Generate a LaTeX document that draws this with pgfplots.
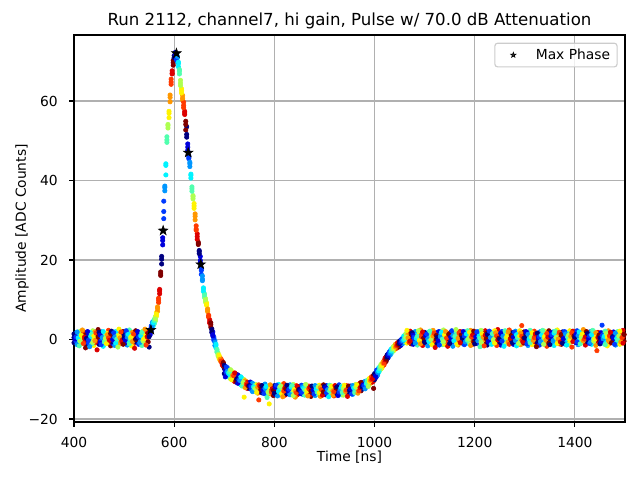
\documentclass[border=0pt]{standalone}
\usepackage{pgfplots}
\pgfplotsset{compat=1.18}
\usepackage{pgfplotstable}
\usepackage{fontspec}
\setmainfont{DejaVu Sans}

\pgfdeclareplotmark{mystar}{%
  \pgfpathmoveto{\pgfpointpolar{90}{\pgfplotmarksize}}%
  \pgfpathlineto{\pgfpointpolar{126}{0.4\pgfplotmarksize}}%
  \pgfpathlineto{\pgfpointpolar{162}{\pgfplotmarksize}}%
  \pgfpathlineto{\pgfpointpolar{198}{0.4\pgfplotmarksize}}%
  \pgfpathlineto{\pgfpointpolar{234}{\pgfplotmarksize}}%
  \pgfpathlineto{\pgfpointpolar{270}{0.4\pgfplotmarksize}}%
  \pgfpathlineto{\pgfpointpolar{306}{\pgfplotmarksize}}%
  \pgfpathlineto{\pgfpointpolar{342}{0.4\pgfplotmarksize}}%
  \pgfpathlineto{\pgfpointpolar{18}{\pgfplotmarksize}}%
  \pgfpathlineto{\pgfpointpolar{54}{0.4\pgfplotmarksize}}%
  \pgfpathclose
  \pgfusepathqfillstroke
}

\pgfplotstableread{
x k a b c
400.0 0 0.5 -0.8 1.4
402.1 1 -0.3 1.1 0.2
404.2 2 1.6 -0.5 0.7
406.3 3 0.1 -1.3 1.9
408.4 4 -0.9 0.8 0.4
410.5 5 1.2 -0.2 -1.6
412.6 6 0.6 2.1 -0.4
414.7 7 -1.1 0.3 1.0
416.8 8 0.9 -0.7 2.4
418.9 9 -0.1 1.5 -1.0
421.0 10 1.8 0.0 0.6
423.1 11 -0.6 1.2 -2.1
425.0 0 1.0 -1.4 0.3
427.1 1 -0.2 0.9 2.0
429.2 2 0.7 -0.9 -0.1
431.3 3 1.5 0.4 -1.8
433.4 4 -0.5 1.7 0.8
435.5 5 0.2 -1.1 1.3
437.6 6 2.2 0.6 -0.7
439.7 7 -1.5 0.1 0.9
441.8 8 0.8 1.9 -0.3
443.9 9 -0.8 0.5 1.6
446.0 10 1.3 -0.4 -2.6
448.1 11 0.0 2.5 0.7
450.0 0 -1.2 0.6 1.8
452.1 1 0.4 -0.6 1.1
454.2 2 1.9 0.2 -1.3
456.3 3 -0.4 1.3 0.5
458.4 4 0.9 -1.7 2.0
460.5 5 -0.1 0.8 -0.6
462.6 6 1.4 -0.3 0.3
464.7 7 0.6 1.6 -1.0
466.8 8 -0.9 0.1 1.2
468.9 9 2.3 -0.8 0.4
471.0 10 0.3 1.0 -0.2
473.1 11 -1.6 0.7 1.5
475.0 0 0.8 -0.5 2.1
477.1 1 -1.0 1.4 0.0
479.2 2 0.5 -0.2 1.7
481.3 3 1.1 -1.5 0.6
483.4 4 -0.3 2.0 -0.9
485.5 5 1.7 0.4 0.1
487.6 6 -0.7 1.0 -1.9
489.7 7 0.2 2.6 0.9
491.8 8 1.3 -1.1 0.4
493.9 9 -0.4 0.7 1.9
496.0 10 0.9 -0.6 -0.2
498.1 11 2.0 0.3 -1.2
500.0 0 -0.6 1.2 0.4
502.1 1 1.5 -0.9 -0.1
504.2 2 0.1 0.8 2.2
506.3 3 -1.4 1.6 0.6
508.4 4 0.7 -0.3 1.3
510.5 5 2.4 0.2 -1.1
512.6 6 -0.2 1.1 0.5
514.7 7 1.0 -1.6 0.8
516.8 8 0.3 1.8 -0.5
518.9 9 -1.1 0.6 1.4
521.0 10 1.6 -0.1 -2.2
523.1 11 0.4 2.2 0.0
525.0 0 1.1 -0.7 0.3
527.1 1 -0.5 1.5 2.0
529.2 2 0.8 -1.2 0.6
531.3 3 1.7 0.0 -0.8
533.4 4 -0.2 1.1 0.9
535.5 5 0.5 -1.5 1.8
537.6 6 2.1 0.4 -0.3
539.7 7 -0.9 1.3 0.2
541.8 8 0.6 -0.4 2.6
543.9 9 1.4 0.1 -1.4
546.0 10 -0.3 1.9 0.7
548.1 11 0.9 -0.6 1.5
550.0 0 1.4 -1.9 0.7
552.1 1 2.5 1.2 1.9
554.2 2 3.4 2.1 2.9
556.3 3 3.0 4.3 3.6
558.4 4 4.6 3.5 4.2
560.5 5 5.1 4.0 4.8
562.6 6 4.7 5.8 5.2
564.7 7 6.8 5.9 6.4
566.8 8 7.1 8.2 7.8
568.9 9 9.3 10.4 9.9
571.0 10 12.6 11.5 12.2
573.1 11 16.1 17.0 16.5
575.0 0 19.0 20.9 20.2
577.1 1 23.8 25.6 24.9
579.2 2 30.4 32.2 34.8
581.3 3 38.6 37.4 38.2
583.4 4 41.4 43.8 44.2
585.5 5 49.6 51.0 50.2
587.6 6 53.2 54.1 53.8
589.7 7 55.8 57.4 56.9
591.8 8 59.8 61.5 60.9
593.9 9 64.8 65.5 64.2
596.0 10 67.0 67.6 66.8
598.1 11 69.6 70.2 69.0
600.0 0 70.6 71.4 70.9
602.1 1 71.5 72.2 71.8
604.2 2 71.0 72.0 70.4
606.3 3 70.8 69.9 71.2
608.4 4 69.4 68.6 69.8
610.5 5 66.8 67.5 67.9
612.6 6 64.5 65.2 63.9
614.7 7 62.6 63.1 62.0
616.8 8 60.2 61.4 60.7
618.9 9 59.7 58.3 58.9
621.0 10 57.4 56.6 57.0
623.1 11 54.9 52.7 54.1
625.0 0 53.5 50.9 51.6
627.1 1 48.4 49.2 47.6
629.2 2 45.5 46.3 45.9
631.3 3 44.2 43.5 44.6
633.4 4 41.3 40.6 41.6
635.5 5 37.9 37.3 38.4
637.6 6 36.2 35.4 35.9
639.7 7 34.2 33.0 33.6
641.8 8 31.6 30.1 31.0
643.9 9 27.8 28.6 27.5
646.0 10 26.6 25.2 25.9
648.1 11 24.5 23.9 24.2
650.0 0 22.4 21.6 22.1
652.1 1 20.9 19.4 19.9
654.2 2 17.4 16.4 17.8
656.3 3 15.2 16.0 14.8
658.4 4 12.7 12.1 13.0
660.5 5 11.5 10.6 11.2
662.6 6 9.8 10.3 9.4
664.7 7 8.6 9.2 8.9
666.8 8 7.7 7.0 7.4
668.9 9 5.6 6.1 5.9
671.0 10 4.4 4.9 4.1
673.1 11 3.7 3.1 4.2
675.0 0 2.7 1.8 2.5
677.1 1 1.9 1.2 0.9
679.2 2 0.6 0.2 -0.2
681.3 3 -0.3 -1.5 -0.7
683.4 4 -1.5 -2.1 -1.2
685.5 5 -3.2 -2.5 -2.9
687.6 6 -3.4 -4.1 -3.8
689.7 7 -4.4 -4.8 -4.0
691.8 8 -5.3 -4.6 -5.0
693.9 9 -5.6 -5.0 -5.4
696.0 10 -6.1 -5.5 -6.4
698.1 11 -6.1 -6.7 -5.8
700.0 0 -7.3 -8.6 -6.5
702.1 1 -6.8 -7.9 -9.4
704.2 2 -7.2 -8.4 -6.9
706.3 3 -8.9 -7.1 -8.0
708.4 4 -7.6 -9.3 -8.5
710.5 5 -9.5 -7.8 -8.2
712.6 6 -8.1 -9.9 -7.6
714.7 7 -9.2 -8.0 -10.1
716.8 8 -8.4 -9.7 -9.0
718.9 9 -10.3 -8.6 -9.1
721.0 10 -9.0 -10.6 -8.4
723.1 11 -9.8 -8.7 -10.4
725.0 0 -9.0 -10.8 -9.9
727.1 1 -10.4 -8.9 -11.0
729.2 2 -9.3 -10.9 -10.1
731.3 3 -11.2 -9.6 -10.3
733.4 4 -10.0 -11.4 -9.4
735.5 5 -10.9 -9.8 -11.7
737.6 6 -11.6 -10.2 -10.8
739.7 7 -10.1 -11.8 -14.5
741.8 8 -11.5 -10.4 -12.1
743.9 9 -10.6 -11.9 -11.2
746.0 10 -12.3 -10.8 -11.4
748.1 11 -11.0 -12.0 -11.7
750.0 0 -10.9 -12.3 -11.6
752.1 1 -12.0 -10.7 -11.8
754.2 2 -11.2 -12.6 -11.9
756.3 3 -12.4 -11.0 -13.1
758.4 4 -11.5 -12.8 -11.9
760.5 5 -13.0 -11.6 -12.2
762.6 6 -11.3 -12.9 -12.4
764.7 7 -12.7 -11.5 -13.3
766.8 8 -11.8 -13.5 -12.0
768.9 9 -12.9 -11.4 -15.2
771.0 10 -12.1 -13.2 -11.7
773.1 11 -13.0 -11.9 -12.5
775.0 0 -12.1 -13.4 -11.6
777.1 1 -13.0 -11.9 -12.7
779.2 2 -11.5 -12.8 -13.6
781.3 3 -12.9 -11.2 -12.3
783.4 4 -13.8 -12.4 -11.8
785.5 5 -12.0 -13.1 -14.6
787.6 6 -11.7 -12.6 -13.3
789.7 7 -13.4 -12.1 -16.2
791.8 8 -12.5 -13.7 -11.4
793.9 9 -11.9 -12.9 -13.2
796.0 10 -13.6 -11.8 -12.4
798.1 11 -12.2 -14.1 -12.8
800.0 0 -12.9 -11.6 -13.5
802.1 1 -12.3 -13.8 -12.0
804.2 2 -13.4 -12.2 -11.5
806.3 3 -11.8 -13.0 -14.2
808.4 4 -12.7 -11.3 -13.1
810.5 5 -13.9 -12.5 -12.0
812.6 6 -12.1 -13.3 -11.7
814.7 7 -11.4 -12.8 -13.6
816.8 8 -13.2 -12.0 -14.4
818.9 9 -12.6 -11.1 -13.0
821.0 10 -14.0 -12.7 -12.2
823.1 11 -11.9 -13.5 -12.4
825.0 0 -12.4 -13.7 -11.5
827.1 1 -13.1 -12.0 -12.8
829.2 2 -11.7 -13.4 -12.5
831.3 3 -12.9 -11.4 -13.9
833.4 4 -13.6 -12.3 -12.0
835.5 5 -12.2 -13.2 -11.6
837.6 6 -11.3 -12.7 -14.1
839.7 7 -13.3 -11.9 -12.6
841.8 8 -12.0 -14.5 -13.0
843.9 9 -12.8 -11.6 -13.4
846.0 10 -13.9 -12.4 -11.8
848.1 11 -12.3 -13.1 -12.7
850.0 0 -13.2 -11.8 -12.5
852.1 1 -12.0 -13.6 -12.9
854.2 2 -12.7 -11.5 -13.3
856.3 3 -13.8 -12.4 -11.9
858.4 4 -11.6 -13.0 -12.2
860.5 5 -12.9 -14.0 -12.6
862.6 6 -13.4 -12.1 -11.3
864.7 7 -12.2 -13.5 -12.8
866.8 8 -11.9 -12.6 -14.2
868.9 9 -13.1 -11.7 -12.4
871.0 10 -12.5 -13.9 -12.0
873.1 11 -14.3 -12.3 -13.0
875.0 0 -12.6 -13.3 -11.7
877.1 1 -13.5 -12.0 -12.8
879.2 2 -11.9 -12.9 -13.7
881.3 3 -12.4 -14.1 -11.6
883.4 4 -13.0 -11.8 -12.5
885.5 5 -12.1 -13.6 -13.2
887.6 6 -13.8 -12.2 -11.9
889.7 7 -11.5 -12.7 -13.4
891.8 8 -12.9 -14.3 -12.1
893.9 9 -13.3 -11.9 -12.6
896.0 10 -12.0 -13.1 -14.0
898.1 11 -12.7 -11.4 -13.2
900.0 0 -13.1 -12.3 -11.8
902.1 1 -12.5 -13.9 -12.1
904.2 2 -11.6 -12.8 -13.4
906.3 3 -13.7 -12.0 -12.6
908.4 4 -12.2 -13.3 -14.4
910.5 5 -12.9 -11.5 -13.0
912.6 6 -11.9 -13.6 -12.4
914.7 7 -13.2 -12.1 -11.7
916.8 8 -12.6 -14.0 -12.9
918.9 9 -14.2 -12.4 -13.1
921.0 10 -12.0 -13.0 -11.6
923.1 11 -13.5 -12.7 -12.2
925.0 0 -12.3 -13.6 -11.9
927.1 1 -13.0 -12.2 -14.1
929.2 2 -12.7 -11.4 -13.2
931.3 3 -11.8 -13.5 -12.5
933.4 4 -13.9 -12.6 -12.0
935.5 5 -12.4 -11.7 -13.3
937.6 6 -13.1 -14.0 -12.2
939.7 7 -12.0 -12.9 -11.5
941.8 8 -13.6 -12.3 -13.0
943.9 9 -11.6 -13.2 -12.7
946.0 10 -12.8 -11.9 -14.3
948.1 11 -13.4 -12.5 -11.7
950.0 0 -12.1 -13.5 -12.8
952.1 1 -13.2 -11.7 -12.4
954.2 2 -11.9 -12.8 -13.7
956.3 3 -12.6 -13.8 -11.6
958.4 4 -13.3 -11.9 -12.2
960.5 5 -11.5 -12.9 -13.4
962.6 6 -12.7 -11.3 -12.0
964.7 7 -13.0 -12.2 -11.4
966.8 8 -11.6 -12.8 -13.5
968.9 9 -12.4 -11.2 -12.9
971.0 10 -11.0 -12.6 -12.1
973.1 11 -12.9 -11.5 -10.8
975.0 0 -11.2 -12.5 -11.9
977.1 1 -12.3 -10.8 -11.4
979.2 2 -10.9 -12.1 -11.7
981.3 3 -11.8 -10.5 -12.4
983.4 4 -10.6 -11.9 -11.1
985.5 5 -11.7 -10.3 -10.9
987.6 6 -10.1 -11.5 -11.8
989.7 7 -11.2 -9.8 -10.6
991.8 8 -9.7 -11.0 -10.3
993.9 9 -10.8 -9.4 -10.1
996.0 10 -9.3 -10.7 -9.9
998.1 11 -10.4 -9.0 -12.3
1000.0 0 -9.0 -10.1 -8.6
1002.1 1 -8.4 -9.6 -9.2
1004.2 2 -9.3 -8.1 -7.7
1006.3 3 -7.6 -8.9 -8.3
1008.4 4 -8.2 -7.1 -7.9
1010.5 5 -6.9 -7.8 -7.3
1012.6 6 -7.4 -6.3 -6.8
1014.7 7 -6.1 -7.2 -6.5
1016.8 8 -6.6 -5.7 -6.0
1018.9 9 -5.3 -6.4 -5.9
1021.0 10 -5.8 -4.7 -5.1
1023.1 11 -4.4 -5.5 -4.9
1025.0 0 -4.9 -3.9 -4.4
1027.1 1 -3.6 -4.6 -4.0
1029.2 2 -4.1 -3.2 -3.6
1031.3 3 -2.8 -3.9 -3.4
1033.4 4 -3.5 -2.4 -2.9
1035.5 5 -2.2 -3.1 -2.6
1037.6 6 -2.9 -1.8 -2.3
1039.7 7 -1.6 -2.6 -2.0
1041.8 8 -2.3 -1.2 -1.9
1043.9 9 -1.1 -2.2 -1.6
1046.0 10 -1.8 -0.8 -1.4
1048.1 11 -0.7 -1.9 -1.2
1050.0 0 -1.6 -0.4 -1.0
1052.1 1 -0.2 -1.5 -0.8
1054.2 2 -1.2 0.1 -0.5
1056.3 3 0.4 -1.0 -0.3
1058.4 4 -0.8 0.9 -0.1
1060.5 5 1.1 -0.6 0.2
1062.6 6 -0.3 1.5 0.6
1064.7 7 0.8 -0.9 2.3
1066.8 8 -0.2 1.3 0.4
1068.9 9 1.7 0.0 -0.7
1071.0 10 0.5 2.1 -0.4
1073.1 11 -1.1 0.7 1.4
1075.0 0 0.9 -0.6 1.7
1077.1 1 -1.2 0.4 1.1
1079.2 2 1.5 -0.1 0.6
1081.3 3 0.2 2.0 -0.9
1083.4 4 -0.4 1.0 0.3
1085.5 5 1.3 -1.4 0.8
1087.6 6 0.6 0.1 2.2
1089.7 7 -0.8 1.6 -0.2
1091.8 8 2.4 0.5 -1.1
1093.9 9 0.0 1.2 0.7
1096.0 10 -1.5 0.8 1.9
1098.1 11 1.1 -0.3 0.4
1100.0 0 0.4 1.8 -0.7
1102.1 1 1.6 -0.2 0.9
1104.2 2 -1.0 0.7 1.4
1106.3 3 0.8 -1.6 0.2
1108.4 4 1.9 0.3 -0.5
1110.5 5 -0.3 1.2 2.1
1112.6 6 0.7 -0.9 0.0
1114.7 7 1.4 0.5 -1.3
1116.8 8 -0.6 2.3 0.9
1118.9 9 0.2 -0.4 1.6
1121.0 10 1.7 0.9 -2.0
1123.1 11 -0.9 0.1 1.0
1125.0 0 1.2 -1.1 0.5
1127.1 1 0.0 1.9 -0.3
1129.2 2 2.0 0.4 -1.4
1131.3 3 -0.5 1.1 0.7
1133.4 4 0.9 -0.8 1.8
1135.5 5 -1.3 0.6 0.1
1137.6 6 1.5 2.4 -0.6
1139.7 7 0.3 -1.2 1.2
1141.8 8 -0.2 0.8 2.0
1143.9 9 1.1 -0.5 0.4
1146.0 10 0.6 1.6 -1.7
1148.1 11 -0.7 0.2 1.3
1150.0 0 0.1 1.4 -1.0
1152.1 1 1.8 -0.4 0.6
1154.2 2 -0.8 0.9 2.2
1156.3 3 0.5 -1.7 1.0
1158.4 4 1.6 0.2 -0.3
1160.5 5 -0.1 1.3 0.8
1162.6 6 0.9 -0.6 2.5
1164.7 7 2.1 0.7 -1.2
1166.8 8 -1.4 1.0 0.3
1168.9 9 0.4 -0.2 1.7
1171.0 10 1.3 2.0 -0.8
1173.1 11 -0.5 0.6 1.1
1175.0 0 1.0 -0.9 0.4
1177.1 1 -0.3 1.5 2.0
1179.2 2 0.7 -1.3 0.9
1181.3 3 1.9 0.3 -0.6
1183.4 4 -1.0 0.8 1.4
1185.5 5 0.6 2.2 -0.2
1187.6 6 1.4 -0.5 0.1
1189.7 7 -0.7 1.1 1.8
1191.8 8 2.3 0.0 -1.5
1193.9 9 0.2 1.7 0.6
1196.0 10 -1.2 0.5 1.2
1198.1 11 0.8 -0.4 2.1
1200.0 0 1.5 0.2 -1.1
1202.1 1 -0.6 1.3 0.7
1204.2 2 0.9 -1.0 1.9
1206.3 3 2.0 0.5 -0.3
1208.4 4 -0.2 1.6 0.8
1210.5 5 1.1 -1.8 0.3
1212.6 6 0.4 2.3 -0.7
1214.7 7 -1.3 0.7 1.4
1216.8 8 1.7 -0.1 0.6
1218.9 9 0.0 1.0 -1.6
1221.0 10 2.2 0.4 1.1
1223.1 11 -0.8 1.5 0.2
1225.0 0 0.6 -1.4 1.3
1227.1 1 1.9 0.1 -0.5
1229.2 2 -0.4 1.2 2.1
1231.3 3 1.0 -0.8 0.5
1233.4 4 0.3 1.8 -1.2
1235.5 5 -1.1 0.7 1.5
1237.6 6 1.6 -0.3 0.0
1239.7 7 0.8 2.2 -0.9
1241.8 8 -0.5 0.4 1.7
1243.9 9 1.3 -1.5 0.9
1246.0 10 2.5 0.6 -0.1
1248.1 11 -0.2 1.1 0.3
1250.0 0 1.2 -0.7 0.1
1252.1 1 -1.4 0.9 1.6
1254.2 2 0.5 2.0 -0.4
1256.3 3 1.7 -0.2 0.8
1258.4 4 -0.6 1.1 -1.7
1260.5 5 0.9 0.3 2.2
1262.6 6 2.0 -1.0 0.5
1264.7 7 -0.1 1.5 0.7
1266.8 8 1.3 -0.6 1.9
1268.9 9 0.4 2.4 -1.2
1271.0 10 -0.9 0.8 0.2
1273.1 11 1.6 -0.3 1.0
1275.0 0 0.3 1.7 -0.8
1277.1 1 1.1 -1.2 0.6
1279.2 2 -0.5 0.9 1.8
1281.3 3 2.1 0.2 -0.3
1283.4 4 0.7 -1.6 1.2
1285.5 5 -0.2 1.4 0.5
1287.6 6 1.5 0.0 -1.0
1289.7 7 0.6 2.2 0.9
1291.8 8 -1.3 0.5 1.6
1293.9 9 3.5 -0.4 0.8
1296.0 10 0.1 1.3 -0.6
1298.1 11 1.9 -0.9 0.4
1300.0 0 -0.7 1.0 0.4
1302.1 1 1.4 -0.3 2.0
1304.2 2 0.2 1.8 -1.1
1306.3 3 -1.5 0.6 1.3
1308.4 4 1.0 -0.5 0.1
1310.5 5 2.3 0.9 -0.8
1312.6 6 -0.4 1.2 0.7
1314.7 7 0.8 -1.3 1.7
1316.8 8 1.6 0.3 -0.2
1318.9 9 -0.9 2.1 0.5
1321.0 10 0.5 -0.6 1.4
1323.1 11 1.2 0.0 -1.8
1325.0 0 0.9 -0.8 1.6
1327.1 1 -0.1 1.3 0.4
1329.2 2 1.8 -1.4 0.7
1331.3 3 0.4 2.0 -0.5
1333.4 4 -1.0 0.7 1.1
1335.5 5 1.5 -0.2 2.3
1337.6 6 0.0 1.6 -1.2
1339.7 7 2.1 0.5 0.8
1341.8 8 -0.6 1.1 -0.1
1343.9 9 0.7 -1.7 1.5
1346.0 10 1.3 0.2 0.6
1348.1 11 -0.3 2.2 -0.9
1350.0 0 1.4 0.1 -1.3
1352.1 1 -0.5 1.7 0.8
1354.2 2 0.6 -0.9 1.2
1356.3 3 1.9 0.3 -0.4
1358.4 4 0.2 -1.5 1.6
1360.5 5 -0.8 1.0 2.1
1362.6 6 1.2 -0.3 0.5
1364.7 7 2.4 0.7 -1.0
1366.8 8 -0.2 1.4 0.1
1368.9 9 0.9 -1.1 1.8
1371.0 10 1.6 0.4 -0.6
1373.1 11 -1.2 0.8 1.3
1375.0 0 0.7 1.9 -0.9
1377.1 1 1.3 -0.4 0.2
1379.2 2 -1.1 0.8 2.0
1381.3 3 0.5 -0.7 1.4
1383.4 4 1.8 0.1 -1.4
1385.5 5 -0.3 1.5 0.6
1387.6 6 0.9 -1.2 1.1
1389.7 7 2.2 0.4 -0.2
1391.8 8 -0.6 1.2 0.8
1393.9 9 1.0 -1.9 1.7
1396.0 10 0.3 2.1 -0.5
1398.1 11 1.5 -0.1 0.9
1400.0 0 -0.4 1.1 0.6
1402.1 1 1.7 -0.8 1.3
1404.2 2 0.2 2.2 -0.6
1406.3 3 -1.3 0.5 1.0
1408.4 4 1.2 -0.2 1.9
1410.5 5 0.6 1.6 -1.1
1412.6 6 -0.9 0.3 0.8
1414.7 7 1.9 -0.5 1.4
1416.8 8 0.4 2.5 -0.3
1418.9 9 -0.7 1.0 0.1
1421.0 10 1.5 -1.4 0.7
1423.1 11 0.1 0.9 2.0
1425.0 0 0.8 -0.6 1.5
1427.1 1 -0.2 1.4 0.3
1429.2 2 1.6 -1.0 0.9
1431.3 3 0.3 2.0 -0.7
1433.4 4 -1.2 0.7 1.2
1435.5 5 1.1 -0.3 2.3
1437.6 6 2.0 0.6 -0.4
1439.7 7 -0.5 1.3 0.1
1441.8 8 0.9 -1.5 1.7
1443.9 9 1.4 0.2 -2.8
1446.0 10 -0.8 1.8 0.5
1448.1 11 0.6 -0.1 1.1
1450.0 0 1.3 -1.1 0.4
1452.1 1 0.0 1.7 -0.5
1454.2 2 3.6 0.5 1.0
1456.3 3 -0.9 1.2 0.2
1458.4 4 1.8 -0.4 0.8
1460.5 5 0.5 2.1 -1.3
1462.6 6 -0.3 0.9 1.5
1464.7 7 1.0 -1.6 0.6
1466.8 8 2.2 0.3 -0.2
1468.9 9 -1.0 1.4 0.9
1471.0 10 0.7 -0.5 1.8
1473.1 11 1.6 0.1 -0.8
1475.0 0 -0.5 1.2 0.7
1477.1 1 1.9 -0.3 0.4
1479.2 2 0.6 1.5 -1.2
1481.3 3 -1.4 0.8 1.6
1483.4 4 1.1 -0.7 0.3
1485.5 5 2.0 0.4 -0.1
1487.6 6 -0.2 1.7 0.9
1489.7 7 0.9 -1.2 2.1
1491.8 8 1.4 0.2 -0.6
1493.9 9 -0.8 1.1 0.5
1496.0 10 0.5 2.3 -0.9
1498.1 11 1.2 -0.4 1.3
}\pulsedata

\pgfplotsset{dotstyle/.style={scatter, only marks, scatter src=explicit, mark=*, mark size=1.6bp,
  scatter/use mapped color={draw=mapped color, fill=mapped color}, forget plot}}

\begin{document}
\begin{tikzpicture}
\begin{axis}[
  scale only axis, width=396.72bp, height=278.64bp,
  xmin=400, xmax=1500, ymin=-20.75, ymax=76.6,
  xtick={400,600,800,1000,1200,1400}, xticklabels={400,600,800,1000,1200,1400},
  ytick={-20,0,20,40,60}, yticklabels={−20,0,20,40,60},
  tick pos=left,
  grid=major, grid style={color=black!31, line width=0.8bp},
  axis line style={line width=0.8bp, black},
  tick style={line width=0.8bp, black},
  tick align=outside, major tick length=3.5bp,
  axis on top,
  tick label style={font=\fontsize{10}{12}\selectfont},
  xticklabel style={inner sep=0pt, anchor=north, yshift=-7.4bp},
  yticklabel style={inner sep=0pt, anchor=east, xshift=-8bp},
  xlabel={Time [ns]}, ylabel={Amplitude [ADC Counts]},
  xlabel style={font=\fontsize{10}{12}\selectfont, at={(axis description cs:0.5,-0.1012)}, anchor=base, inner sep=0pt},
  ylabel style={font=\fontsize{10}{12}\selectfont, at={(axis description cs:-0.0872,0.5)}, anchor=base, inner sep=0pt},
  title={Run 2112, channel7, hi gain, Pulse w/ 70.0 dB Attenuation},
  every axis title/.style={font=\fontsize{12}{14}\selectfont, at={(0.5,1)}, anchor=base, yshift=6.7bp, inner sep=0pt},
  colormap/jet, point meta min=0, point meta max=11,
  legend style={at={(1,1)}, anchor=north east, xshift=-5.3bp, yshift=-5.5bp,
    draw=black!20, line width=0.8bp, rounded corners=2bp, fill=white, fill opacity=0.8,
    draw opacity=1, text opacity=1, font=\fontsize{10}{12}\selectfont,
    inner xsep=3bp, inner ysep=2bp, nodes={inner sep=2bp, text depth=0.15em}},
]
\addplot[dotstyle] table[x=x, y=a, meta=k] {\pulsedata};
\addplot[dotstyle] table[x=x, y=b, meta=k] {\pulsedata};
\addplot[dotstyle] table[x=x, y=c, meta=k] {\pulsedata};
\addplot[only marks, mark=mystar, mark size=3.6bp, draw=black, fill=black, line width=0.4bp,
  legend image code/.code={\path (-10.1bp,0bp) (14bp,0bp);
    \draw[black, fill=black, mark=mystar, mark size=2bp, line width=0.4bp] plot coordinates {(0bp,0bp)};}]
  coordinates {(553.5,2.4) (578,27.4) (604.5,72.0) (628,47.0) (653,18.9)};
\addlegendentry{Max Phase}
\end{axis}
\pgfresetboundingbox
\path[use as bounding box] (-53.28bp,-41.76bp) rectangle (407.52bp,303.84bp);
\end{tikzpicture}
\end{document}
